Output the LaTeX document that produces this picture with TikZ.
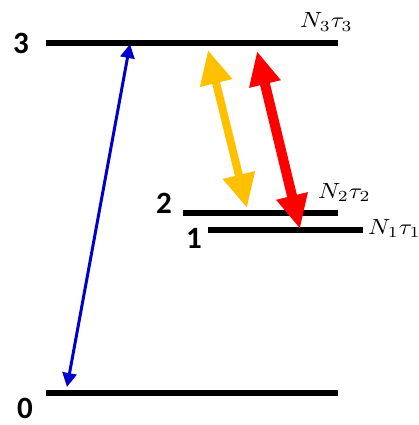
\documentclass[tikz,border=0pt]{standalone}
\usepackage{fontspec}
\usepackage{graphicx}
\newfontfamily\digfont{Carlito}
\usetikzlibrary{arrows.meta}
\newcommand{\biglab}[1]{\scalebox{2.45}[2.2]{$#1$}}
\begin{document}
\begin{tikzpicture}[x=1pt,y=-1pt,
  level/.style={line width=6pt},
  lvlnum/.style={font=\digfont\bfseries\fontsize{31}{31}\selectfont, inner sep=0pt},
  lvllab/.style={inner sep=0pt, anchor=base west},
  pump/.style={draw={rgb,255:red,0;green,0;blue,204}, line width=3pt,
     {Triangle[width=14pt,length=14pt]}-{Triangle[width=14pt,length=14pt]}},
  yel/.style={draw={rgb,255:red,255;green,192;blue,0}, line width=8pt,
     {Triangle[width=31pt,length=34pt]}-{Triangle[width=31pt,length=34pt]}},
  redarr/.style={draw={rgb,255:red,255;green,0;blue,0}, line width=10pt,
     {Triangle[width=30pt,length=34pt]}-{Triangle[width=30pt,length=34pt]}}
]
\useasboundingbox (0,0) rectangle (418,425);
% levels
\coordinate (l3a) at (46,43); \coordinate (l3b) at (338,43);
\coordinate (l2a) at (183,213); \coordinate (l2b) at (338,213);
\coordinate (l1a) at (208,230); \coordinate (l1b) at (363,230);
\coordinate (l0a) at (46,393); \coordinate (l0b) at (338,393);
\draw[level] (l3a) -- (l3b);
\draw[level] (l2a) -- (l2b);
\draw[level] (l1a) -- (l1b);
\draw[level] (l0a) -- (l0b);
% numbers
\node[lvlnum] (n3) at (21,43) {3};
\node[lvlnum] (n2) at (164,203) {2};
\node[lvlnum] (n1) at (194,238) {1};
\node[lvlnum] (n0) at (25,408) {0};
% labels
\node[lvllab] (t3) at (300,28) {\biglab{N_3\tau_3}};
\node[lvllab] (t2) at (318,198) {\biglab{N_2\tau_2}};
\node[lvllab] (t1) at (368,234) {\biglab{N_1\tau_1}};
% arrows
\coordinate (b0) at (67,387); \coordinate (b3) at (130,44);
\coordinate (y3) at (208,50); \coordinate (y2) at (247,208);
\coordinate (r3) at (257,51); \coordinate (r1) at (300,229);
\draw[pump] (b0) -- (b3);
\draw[yel] (y3) -- (y2);
\draw[redarr] (r3) -- (r1);
\end{tikzpicture}
\end{document}
